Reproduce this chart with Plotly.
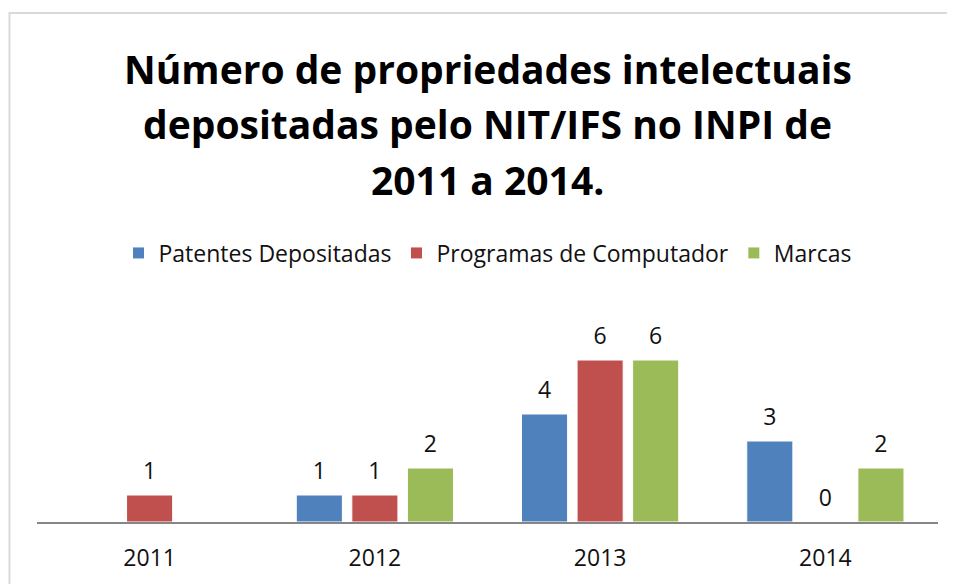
import plotly.graph_objects as go

# Data
years = ["2011", "2012", "2013", "2014"]
series_names = ["Patentes Depositadas", "Programas de Computador", "Marcas"]
patentes = [None, 1, 4, 3]
programas = [1, 1, 6, 0]
marcas = [None, 2, 6, 2]
series_values = [patentes, programas, marcas]
series_colors = ["#4F81BD", "#C0504D", "#9BBB59"]

title_lines = [
    "Número de propriedades intelectuais",
    "depositadas pelo NIT/IFS no INPI de",
    "2011 a 2014.",
]

FONT = "Open Sans"
TEXT_COLOR = "#111111"

fig = go.Figure()

# Bars
for name, vals, color in zip(series_names, series_values, series_colors):
    fig.add_trace(
        go.Bar(
            x=years,
            y=vals,
            name=name,
            marker=dict(color=color, line=dict(color="white", width=1)),
            offsetgroup=name,
            hoverinfo="skip",
        )
    )

# Data labels (grouped scatter so they sit above each bar)
for name, vals in zip(series_names, series_values):
    fig.add_trace(
        go.Scatter(
            x=years,
            y=vals,
            mode="markers+text",
            text=[("" if v is None else str(v)) for v in vals],
            textposition="top center",
            textfont=dict(family=FONT, size=23, color=TEXT_COLOR),
            marker=dict(size=15, opacity=0),
            offsetgroup=name,
            showlegend=False,
            hoverinfo="skip",
            cliponaxis=False,
        )
    )

# Title lines
for i, line in enumerate(title_lines):
    fig.add_annotation(
        text=f"<b>{line}</b>",
        xref="paper",
        yref="paper",
        x=0.5,
        y=(522 - (68 + 55.5 * i)) / 216,
        xanchor="center",
        yanchor="middle",
        showarrow=False,
        font=dict(family=FONT, size=39, color="#000000"),
    )

# Chart border (left and top visible)
fig.add_shape(
    type="rect",
    xref="paper",
    yref="paper",
    x0=-27.5 / 901,
    x1=1.1,
    y0=-0.5,
    y1=(522 - 13) / 216,
    line=dict(color="#D9D9D9", width=2),
    layer="below",
)

# the page body adds an 8px margin, so the figure is sized to fit the window
fig.update_layout(
    width=947,
    height=576,
    margin=dict(l=29, r=17, t=298, b=62),
    paper_bgcolor="white",
    plot_bgcolor="white",
    barmode="group",
    scattermode="group",
    bargap=0.26,
    scattergap=0.26,
    bargroupgap=0.17,
    showlegend=True,
    legend=dict(
        orientation="h",
        x=0.5,
        xanchor="center",
        y=(522 - 253) / 216,
        yanchor="middle",
        font=dict(family=FONT, size=23, color=TEXT_COLOR),
        itemclick=False,
        itemdoubleclick=False,
    ),
    font=dict(family=FONT, size=23, color=TEXT_COLOR),
)

fig.update_xaxes(
    type="category",
    showline=True,
    linecolor="#868686",
    linewidth=2,
    showgrid=False,
    ticks="",
    ticklabelstandoff=14,
    tickfont=dict(family=FONT, size=23, color=TEXT_COLOR),
)
fig.update_yaxes(
    range=[0, 8],
    showgrid=False,
    showticklabels=False,
    zeroline=False,
    showline=False,
)

fig.write_html("out.html")
